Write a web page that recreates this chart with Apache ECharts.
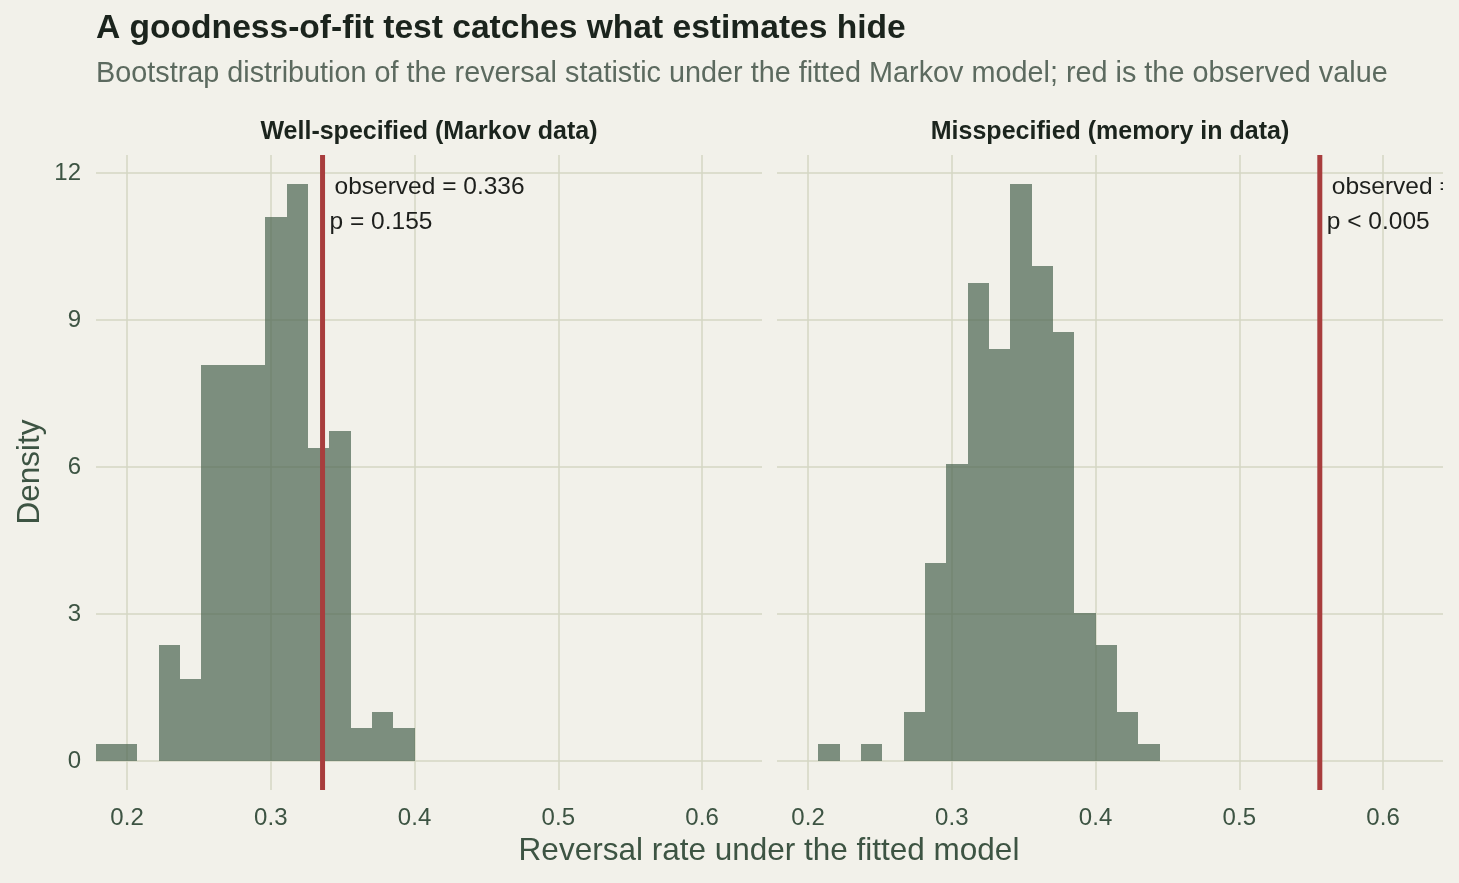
<!DOCTYPE html>
<html>
<head>
<meta charset="utf-8">
<script src="https://cdn.jsdelivr.net/npm/echarts@6/dist/echarts.min.js"></script>
<style>
    html, body { margin: 0; padding: 0; background: #f2f1ea; }
    #chart { width: 1459px; height: 883px; }
</style>
</head>
<body>
<div id="chart"></div>
<script>
    // shared histogram bin edges (reversal rate)
    const binEdges = [0.1773, 0.1922, 0.2070, 0.2219, 0.2367, 0.2516, 0.2664, 0.2813, 0.2961,
        0.3110, 0.3258, 0.3407, 0.3555, 0.3704, 0.3852, 0.4001, 0.4149, 0.4298, 0.4446];
    // density per bin, one value per bin (18 bins)
    const wellDensity = [0.34, 0.34, 0, 2.36, 1.68, 8.08, 8.08, 8.08, 11.11, 11.78, 6.40, 6.73,
        0.67, 1.01, 0.67, 0, 0, 0];
    const missDensity = [0, 0, 0.34, 0, 0.34, 0, 1.01, 4.04, 6.06, 9.76, 8.42, 11.78, 10.10,
        8.75, 3.03, 2.36, 1.01, 0.34];
    const panelTitles = ['Well-specified (Markov data)', 'Misspecified (memory in data)'];
    const observed = [0.336, 0.556];
    const obsLabels = ['observed = 0.336', 'observed = 0.556'];
    const pLabels = ['p = 0.155', 'p < 0.005'];

    const barColor = 'rgba(74, 100, 80, 0.7)';
    const gridColor = '#d5d6c3';
    const axisText = '#3d5443';
    const font = 'Liberation Sans, Arial, Helvetica, sans-serif';
    const yMin = -0.589, yMax = 12.37;

    const chart = echarts.init(document.getElementById('chart'));

    function histSeries(idx, dens) {
        let data = [];
        for (let i = 0; i < dens.length; i++) {
            data.push([binEdges[i], binEdges[i + 1], dens[i]]);
        }
        return {
            type: 'custom',
            xAxisIndex: idx,
            yAxisIndex: idx,
            clip: true,
            data: data,
            encode: { x: [0, 1], y: 2 },
            renderItem: function (params, api) {
                if (api.value(2) <= 0) return;
                const p0 = api.coord([api.value(0), api.value(2)]);
                const p1 = api.coord([api.value(1), 0]);
                const x0 = Math.round(p0[0]), x1 = Math.round(p1[0]);
                return {
                    type: 'rect',
                    shape: { x: x0, y: Math.round(p0[1]), width: x1 - x0, height: Math.round(p1[1]) - Math.round(p0[1]) },
                    style: { fill: barColor }
                };
            },
            z: 2
        };
    }

    // observed value line + annotation
    function obsSeries(idx) {
        return {
            type: 'custom',
            xAxisIndex: idx,
            yAxisIndex: idx,
            clip: true,
            data: [[observed[idx], 11.71, 0], [observed[idx], 11.0, 1], [observed[idx], 0, 2]],
            renderItem: function (params, api) {
                const kind = api.value(2);
                if (kind === 2) {
                    const top = api.coord([api.value(0), yMax]);
                    const bot = api.coord([api.value(0), yMin]);
                    return {
                        type: 'line',
                        shape: { x1: top[0], y1: top[1], x2: bot[0], y2: bot[1] },
                        style: { stroke: '#a83d3d', lineWidth: 5 }
                    };
                }
                const p = api.coord([api.value(0), api.value(1)]);
                return {
                    type: 'text',
                    x: p[0] + (kind === 0 ? 12 : 7),
                    y: p[1],
                    style: {
                        text: kind === 0 ? obsLabels[idx] : pLabels[idx],
                        fill: '#1d1f1c',
                        font: '24.5px ' + font,
                        verticalAlign: 'middle',
                        align: 'left'
                    }
                };
            },
            z: 5
        };
    }

    const grids = [
        { left: 96, top: 155, width: 666, height: 635 },
        { left: 777, top: 155, width: 666, height: 635 }
    ];

    function xAxisFor(idx) {
        return {
            type: 'value',
            gridIndex: idx,
            min: 0.1784,
            max: 0.6417,
            minInterval: 0.1,
            maxInterval: 0.1,
            axisLine: { show: false },
            axisTick: { show: false },
            axisLabel: {
                showMinLabel: false, showMaxLabel: false,
                color: axisText, fontSize: 24, fontFamily: font, margin: 16,
                formatter: function (v) { return v.toFixed(1); }
            },
            splitLine: { show: true, showMinLine: false, showMaxLine: false, lineStyle: { color: gridColor, width: 1.5 } }
        };
    }

    function yAxisFor(idx) {
        return {
            type: 'value',
            gridIndex: idx,
            min: yMin,
            max: yMax,
            minInterval: 3,
            maxInterval: 3,
            axisLine: { show: false },
            axisTick: { show: false },
            axisLabel: {
                show: idx === 0,
                showMinLabel: false, showMaxLabel: false,
                color: axisText, fontSize: 24, fontFamily: font, margin: 15
            },
            splitLine: { show: true, showMinLine: false, showMaxLine: false, lineStyle: { color: gridColor, width: 1.5 } }
        };
    }

    const option = {
        backgroundColor: '#f2f1ea',
        animation: false,
        grid: grids,
        xAxis: [xAxisFor(0), xAxisFor(1)],
        yAxis: [yAxisFor(0), yAxisFor(1)],
        graphic: [
            {
                type: 'text', x: 96, y: 29,
                style: { text: 'A goodness-of-fit test catches what estimates hide', font: 'bold 33.6px ' + font, fill: '#1b241d', verticalAlign: 'middle' }
            },
            {
                type: 'text', x: 96, y: 74,
                style: { text: 'Bootstrap distribution of the reversal statistic under the fitted Markov model; red is the observed value', font: '28.8px ' + font, fill: '#5c6a5f', verticalAlign: 'middle' }
            },
            {
                type: 'text', x: 429, y: 132,
                style: { text: panelTitles[0], font: 'bold 25px ' + font, fill: '#1b241d', align: 'center', verticalAlign: 'middle' }
            },
            {
                type: 'text', x: 1110, y: 132,
                style: { text: panelTitles[1], font: 'bold 25px ' + font, fill: '#1b241d', align: 'center', verticalAlign: 'middle' }
            },
            {
                type: 'text', x: 769, y: 851,
                style: { text: 'Reversal rate under the fitted model', font: '31.5px ' + font, fill: axisText, align: 'center', verticalAlign: 'middle' }
            },
            {
                type: 'text', x: 30, y: 472, rotation: Math.PI / 2,
                style: { text: 'Density', font: '31.5px ' + font, fill: axisText, align: 'center', verticalAlign: 'middle' }
            }
        ],
        series: [histSeries(0, wellDensity), histSeries(1, missDensity), obsSeries(0), obsSeries(1)]
    };

    chart.setOption(option);
    window.onresize = chart.resize;
</script>
</body>
</html>
